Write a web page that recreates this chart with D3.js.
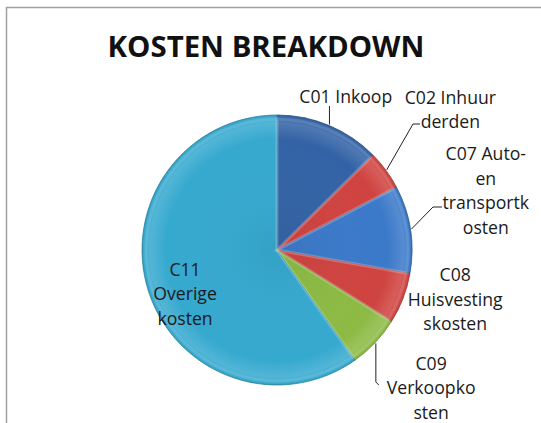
<!DOCTYPE html>
<meta charset="utf-8">
<script src="https://d3js.org/d3.v7.min.js"></script>
<style>
  body { margin: 0; background: #fff; }
  text { font-family: "Open Sans", "Noto Sans", sans-serif; }
</style>
<div id="chart"></div>
<script>

// data
var categories = ["C01 Inkoop", "C02 Inhuur derden", "C07 Auto- en transportkosten",
                  "C08 Huisvestingskosten", "C09 Verkoopkosten", "C11 Overige kosten"];
var values = [12.6, 4.7, 10.5, 6.1, 6.3, 59.8];
// label text as it wraps in the chart
var labelLines = [
  ["C01 Inkoop"],
  ["C02 Inhuur", "derden"],
  ["C07 Auto-", "en", "transportk", "osten"],
  ["C08", "Huisvesting", "skosten"],
  ["C09", "Verkoopko", "sten"],
  ["C11", "Overige", "kosten"]
];
var colors = ["#3363a6", "#cf4340", "#3b79c9", "#cf4340", "#8cba44", "#36a9cf"];

var width = 541, height = 423;
var cx = 277, cy = 250, r = 135;

var svg = d3.select("#chart").append("svg")
    .attr("width", width)
    .attr("height", height);

// frame of the chart area (only top and left edges visible)
svg.append("rect")
    .attr("x", 6.5).attr("y", 7.5)
    .attr("width", width + 10).attr("height", height + 10)
    .attr("fill", "none")
    .attr("stroke", "#a0a0a0")
    .attr("stroke-width", 1.5);

// title
var title = svg.append("text")
    .attr("x", 266)
    .attr("y", 57)
    .attr("text-anchor", "middle")
    .style("font-weight", "bold")
    .style("font-size", "28px")
    .attr("fill", "#111")
    .text("KOSTEN BREAKDOWN");
var tw = title.node().getComputedTextLength();
title.style("font-size", (28 * 317 / tw) + "px");

// soft bevel: lighter toward the rim, thin darker edge
var grad = svg.append("defs").append("radialGradient")
    .attr("id", "bevel")
    .attr("gradientUnits", "userSpaceOnUse")
    .attr("cx", 0).attr("cy", 0).attr("r", r);
grad.append("stop").attr("offset", "0%").attr("stop-color", "#000").attr("stop-opacity", 0.05);
grad.append("stop").attr("offset", "82%").attr("stop-color", "#fff").attr("stop-opacity", 0.0);
grad.append("stop").attr("offset", "94%").attr("stop-color", "#fff").attr("stop-opacity", 0.14);
grad.append("stop").attr("offset", "98%").attr("stop-color", "#fff").attr("stop-opacity", 0.04);
grad.append("stop").attr("offset", "100%").attr("stop-color", "#000").attr("stop-opacity", 0.12);

var pie = d3.pie().sort(null).value(function(d) { return d; });
var arcs = pie(values);
var arc = d3.arc().innerRadius(0).outerRadius(r);

var g = svg.append("g").attr("transform", "translate(" + cx + "," + cy + ")");

g.selectAll("path.slice")
  .data(arcs)
  .enter().append("path")
    .attr("class", "slice")
    .attr("d", arc)
    .attr("fill", function(d, i) { return colors[i]; })
    .attr("stroke", function(d, i) { return d3.color(colors[i]).darker(0.5); })
    .attr("stroke-width", 0.8);

g.selectAll("path.shade")
  .data(arcs)
  .enter().append("path")
    .attr("class", "shade")
    .attr("d", arc)
    .attr("fill", "url(#bevel)");

// inner light edges on slices (bevel look)
var innerArc = d3.arc().innerRadius(0).outerRadius(r - 4);
g.selectAll("path.hl")
  .data(arcs)
  .enter().append("path")
    .attr("class", "hl")
    .attr("d", innerArc)
    .attr("fill", "none")
    .attr("stroke", "#fff")
    .attr("stroke-opacity", 0.12)
    .attr("stroke-width", 3);

// label placement: polar distance and angle shift from slice mid angle (degrees)
var labelRadius = [168, 223, 217, 185, 207, 102];
var labelShift = [1.5, -2.8, -7, -5.5, -1.5, -8];
var lineHeight = 24.5;

function polar(a, rr) { return [Math.sin(a) * rr, -Math.cos(a) * rr]; }

var labels = g.selectAll("g.label")
  .data(arcs)
  .enter().append("g")
    .attr("class", "label")
    .attr("transform", function(d, i) {
      var a = (d.startAngle + d.endAngle) / 2 + labelShift[i] * Math.PI / 180;
      var p = polar(a, labelRadius[i]);
      var n = labelLines[i].length;
      return "translate(" + p[0] + "," + (p[1] - (n - 1) * lineHeight / 2) + ")";
    });

labels.each(function(d, i) {
  var t = d3.select(this).append("text")
      .attr("text-anchor", "middle")
      .attr("fill", "#1b1b1b")
      .style("font-size", "15px");
  labelLines[i].forEach(function(s, k) {
    t.append("tspan").attr("x", 0).attr("y", k * lineHeight).attr("dy", "0.35em").text(s);
  });
});

// scale label font to match the reference width of "C01 Inkoop"
var lw = labels.select("text").node().getComputedTextLength();
labels.selectAll("text").style("font-size", (15 * 93 / lw) + "px");

// leader lines for outside labels
var leaders = [
  function(p) { return [p, [p[0], -144]]; },
  function(p) { return [p, [136, -126], [143, -126]]; },
  function(p) { return [p, [156, -43], [165, -43]]; },
  null,
  function(p) { return [p, [p[0], 132], [p[0] + 3, 135]]; },
  null
];
g.selectAll("path.leader")
  .data(arcs.filter(function(d, i) { return leaders[i]; }))
  .enter().append("path")
    .attr("class", "leader")
    .attr("fill", "none")
    .attr("stroke", "#222")
    .attr("stroke-width", 1)
    .attr("d", function(d) {
      var a = (d.startAngle + d.endAngle) / 2;
      var p = polar(a, r + 1);
      return d3.line()(leaders[d.index](p));
    });

</script>
